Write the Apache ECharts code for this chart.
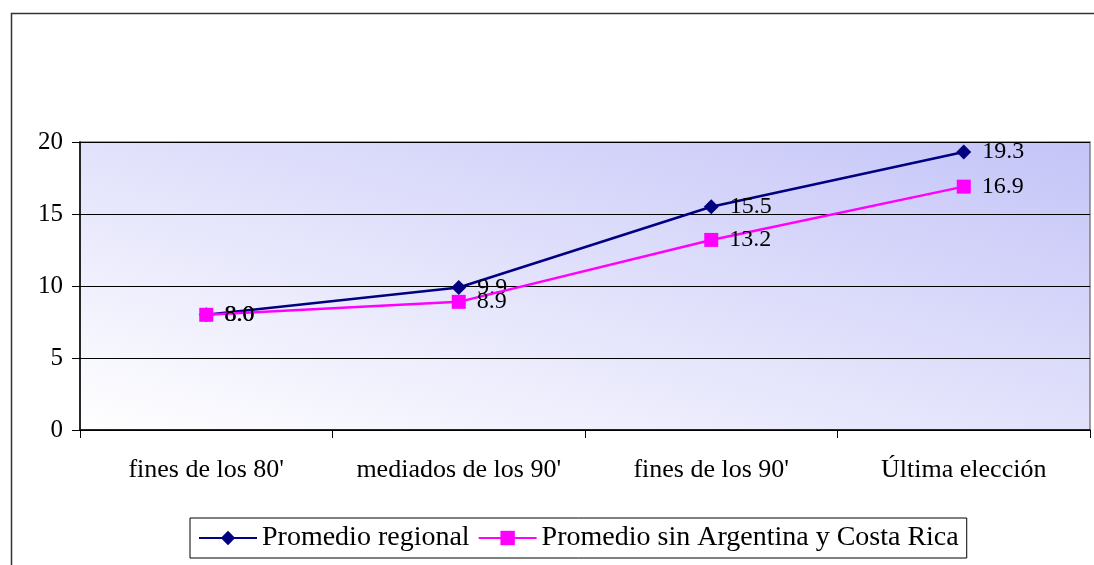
<!DOCTYPE html>
<html><head><meta charset="utf-8">
<script src="https://cdn.jsdelivr.net/npm/echarts@6/dist/echarts.min.js"></script>
<style>html,body{margin:0;padding:0;background:#fff}#c{width:1094px;height:565px}</style>
</head><body><div id="c"></div>
<script>
const categories = ["fines de los 80'", "mediados de los 90'", "fines de los 90'", "Última elección"];
const regional = [8.0, 9.9, 15.5, 19.3];
const sinArgCR = [8.0, 8.9, 13.2, 16.9];
const seriesNames = ["Promedio regional", "Promedio sin Argentina y Costa Rica"];
const font = "'Liberation Serif', 'Times New Roman', serif";

const chart = echarts.init(document.getElementById('c'), null, {renderer: 'canvas'});
const lbl = {show: true, position: 'right', distance: 11, color: '#000', fontSize: 24, fontFamily: font,
  formatter: p => p.value.toFixed(1)};
chart.setOption({
  animation: false,
  backgroundColor: '#fff',
  graphic: [{type: 'rect', left: 9, top: 11, shape: {width: 1200, height: 700},
    style: {fill: 'none', stroke: '#333', lineWidth: 1.5}, z: 100, silent: true}],
  grid: {left: 80, right: 4, top: 142, bottom: 135, show: true, borderColor: '#808080', borderWidth: 1.5,
    backgroundColor: {type: 'linear', global: true, x: 80, y: 430, x2: 232, y2: -103,
      colorStops: [{offset: 0, color: '#ffffff'}, {offset: 1, color: '#c4c4f8'}]}},
  xAxis: {type: 'category', data: categories, boundaryGap: true,
    axisLine: {lineStyle: {color: '#000', width: 1.5}},
    axisTick: {show: true, interval: 0, length: 8, lineStyle: {color: '#000'}},
    axisLabel: {interval: 0, color: '#000', fontSize: 26, fontFamily: font, margin: 27}},
  yAxis: {type: 'value', min: 0, max: 20, interval: 5,
    axisLine: {show: true, lineStyle: {color: '#000', width: 1.5}},
    axisTick: {show: true, length: 8, lineStyle: {color: '#000'}},
    axisLabel: {color: '#000', fontSize: 25, fontFamily: font, margin: 17},
    splitLine: {lineStyle: {color: '#000', width: 1}}},
  legend: {left: 190, top: 518, padding: [6, 8, 6, 8], itemGap: 8, itemWidth: 58, itemHeight: 18,
    borderColor: '#000', borderWidth: 1,
    textStyle: {color: '#000', fontSize: 28, fontFamily: font}, data: seriesNames},
  series: [
    {name: seriesNames[0], type: 'line', data: regional, symbol: 'diamond', symbolSize: 15,
      itemStyle: {color: '#000080'}, lineStyle: {color: '#000080', width: 2.5}, label: lbl, z: 3},
    {name: seriesNames[1], type: 'line', data: sinArgCR, symbol: 'rect', symbolSize: 14,
      itemStyle: {color: '#ff00ff'}, lineStyle: {color: '#ff00ff', width: 2.5}, label: lbl, z: 4}
  ]
});
</script></body></html>
